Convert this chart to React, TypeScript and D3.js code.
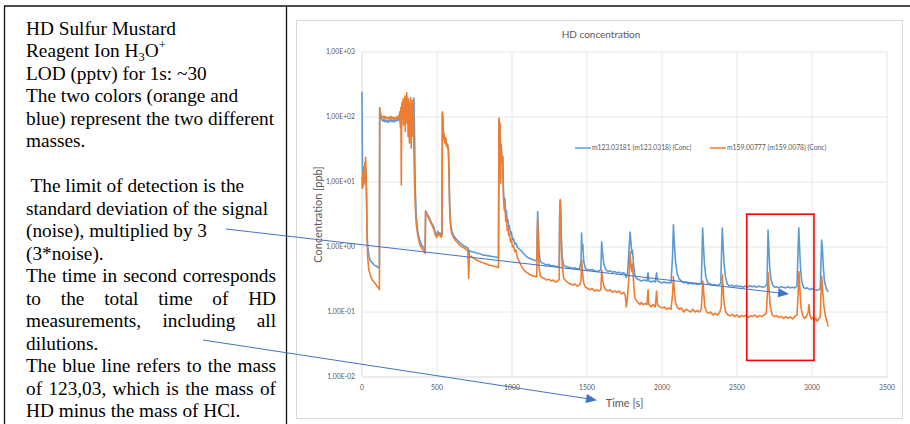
import React, { useRef, useEffect } from 'react';
import * as d3 from 'd3';

// --- DATA ---
// m123.03181 (blue): [time s, concentration ppb]
const blueSeries: [number, number][] = [
  [0, 245], [2, 30], [4, 8], [8, 12], [12, 9], [16, 14], [20, 10], [24, 16], [28, 12], [31, 5],
  [34, 1.6], [38, 1.05], [45, 0.75], [55, 0.62], [65, 0.58], [75, 0.55], [85, 0.52], [95, 0.51],
  [105, 0.49], [113, 0.48], [116, 0.47], [118, 130], [122, 110], [128, 96], [134, 90], [140, 86],
  [146, 92], [152, 85], [158, 90], [164, 84], [170, 88], [176, 83], [182, 90], [188, 86], [194, 92],
  [200, 85], [206, 89], [212, 84], [218, 90], [224, 86], [230, 92], [236, 88], [242, 95], [248, 90],
  [252, 110], [256, 80], [260, 130], [264, 90], [268, 160], [272, 110], [276, 170], [280, 120],
  [286, 190], [292, 150], [298, 210], [304, 140], [310, 170], [316, 100], [322, 150], [328, 90],
  [334, 160], [340, 120], [346, 195], [350, 60], [355, 8], [362, 3], [372, 1.7], [385, 1.25],
  [400, 1.05], [415, 0.95], [421, 0.9], [424, 3.6], [435, 3.2], [450, 2.8], [465, 2.3], [480, 2.0],
  [490, 1.6], [498, 1.5], [505, 1.75], [512, 1.6], [520, 1.65], [528, 1.5], [533, 1.6], [536, 115],
  [540, 85], [544, 48], [548, 52], [552, 42], [558, 45], [564, 36], [570, 38], [576, 32], [580, 15],
  [584, 5], [590, 2.4], [598, 1.8], [610, 1.5], [625, 1.35], [640, 1.25], [655, 1.15], [670, 1.08],
  [685, 1.02], [700, 0.98], [707, 0.96], [711, 0.57], [716, 0.88], [725, 0.86], [740, 0.84],
  [755, 0.82], [770, 0.8], [785, 0.79], [800, 0.76], [815, 0.75], [830, 0.74], [845, 0.73],
  [860, 0.72], [875, 0.71], [890, 0.7], [905, 0.69], [910, 0.68], [913, 90], [917, 72], [921, 60],
  [924, 25], [928, 38], [933, 22], [938, 24], [943, 7], [948, 5], [953, 5.5], [958, 3.2], [963, 3.6],
  [968, 2.4], [973, 2.6], [978, 2.0], [983, 2.1], [990, 1.6], [996, 1.7], [1003, 1.3], [1010, 1.35],
  [1018, 1.1], [1026, 1.15], [1035, 1.0], [1045, 0.95], [1055, 0.9], [1065, 0.86], [1075, 0.8],
  [1085, 0.76], [1095, 0.72], [1105, 0.69], [1115, 0.67], [1125, 0.66], [1135, 0.64], [1145, 0.63],
  [1155, 0.62], [1165, 0.62], [1168, 1.5], [1171, 3.5], [1175, 2], [1180, 0.9], [1188, 0.6],
  [1200, 0.57], [1215, 0.55], [1230, 0.53], [1245, 0.54], [1260, 0.51], [1275, 0.52], [1290, 0.5],
  [1305, 0.5], [1315, 0.52], [1318, 3.5], [1322, 5.3], [1326, 3], [1330, 1.2], [1335, 0.7],
  [1345, 0.52], [1360, 0.5], [1375, 0.49], [1390, 0.48], [1405, 0.47], [1420, 0.48], [1435, 0.46],
  [1450, 0.46], [1460, 0.6], [1464, 1.64], [1468, 0.9], [1472, 1.1], [1478, 0.6], [1490, 0.46],
  [1505, 0.45], [1520, 0.44], [1535, 0.45], [1550, 0.43], [1565, 0.42], [1580, 0.43], [1592, 0.45],
  [1598, 1.2], [1604, 0.8], [1612, 0.55], [1625, 0.45], [1640, 0.42], [1655, 0.43], [1670, 0.41],
  [1685, 0.42], [1700, 0.4], [1715, 0.41], [1730, 0.39], [1745, 0.4], [1755, 0.38], [1762, 0.34],
  [1770, 0.4], [1780, 0.9], [1787, 1.7], [1793, 1.2], [1798, 0.8], [1803, 0.9], [1810, 0.55],
  [1818, 0.38], [1828, 0.33], [1840, 0.32], [1852, 0.31], [1862, 0.3], [1880, 0.31], [1900, 0.3],
  [1907, 0.4], [1913, 0.3], [1925, 0.29], [1940, 0.3], [1955, 0.29], [1964, 0.4], [1970, 0.3],
  [1985, 0.29], [2000, 0.28], [2015, 0.29], [2030, 0.28], [2045, 0.285], [2060, 0.28], [2070, 0.7],
  [2076, 2.2], [2082, 1.2], [2090, 0.6], [2100, 0.4], [2115, 0.32], [2130, 0.3], [2145, 0.28],
  [2160, 0.29], [2175, 0.27], [2190, 0.28], [2205, 0.27], [2220, 0.275], [2235, 0.265], [2250, 0.27],
  [2262, 0.28], [2267, 0.8], [2271, 1.96], [2276, 1.1], [2283, 0.55], [2292, 0.35], [2305, 0.28],
  [2320, 0.27], [2335, 0.26], [2350, 0.265], [2365, 0.255], [2380, 0.26], [2392, 0.28], [2397, 0.8],
  [2402, 1.96], [2407, 1.1], [2414, 0.55], [2423, 0.35], [2435, 0.27], [2450, 0.25], [2465, 0.26],
  [2480, 0.245], [2495, 0.255], [2510, 0.245], [2525, 0.25], [2540, 0.24], [2555, 0.25], [2570, 0.24],
  [2585, 0.255], [2600, 0.245], [2615, 0.25], [2630, 0.24], [2645, 0.25], [2660, 0.245], [2675, 0.24],
  [2690, 0.25], [2700, 0.27], [2704, 0.8], [2707, 1.83], [2712, 1.0], [2718, 0.5], [2726, 0.32],
  [2738, 0.26], [2750, 0.24], [2765, 0.245], [2780, 0.235], [2795, 0.245], [2810, 0.24], [2825, 0.235],
  [2840, 0.245], [2855, 0.235], [2870, 0.24], [2885, 0.235], [2900, 0.25], [2907, 0.9], [2912, 1.98],
  [2917, 1.0], [2923, 0.5], [2931, 0.3], [2943, 0.24], [2955, 0.23], [2970, 0.235], [2985, 0.22],
  [3000, 0.23], [3015, 0.22], [3030, 0.215], [3045, 0.22], [3055, 0.23], [3060, 0.6], [3064, 1.28],
  [3069, 1.0], [3075, 0.5], [3083, 0.3], [3095, 0.23], [3108, 0.205],
];

// m159.00777 (orange): [time s, concentration ppb]
const orangeSeries: [number, number][] = [
  [0, 12], [3, 8], [6, 14], [9, 9], [12, 17], [15, 10], [18, 20], [21, 12], [24, 24], [27, 13],
  [30, 6], [33, 1.5], [38, 0.7], [45, 0.45], [55, 0.37], [65, 0.32], [75, 0.3], [85, 0.28], [95, 0.26],
  [105, 0.24], [113, 0.23], [116, 0.22], [118, 140], [122, 118], [128, 105], [134, 100], [140, 97],
  [146, 103], [152, 96], [158, 101], [164, 95], [170, 99], [176, 93], [182, 100], [188, 96], [194, 102],
  [200, 94], [206, 99], [212, 92], [218, 98], [224, 94], [230, 100], [236, 95], [242, 104], [248, 97],
  [252, 120], [256, 70], [259, 140], [262, 9], [265, 130], [268, 170], [271, 100], [274, 190], [277, 75],
  [280, 160], [283, 110], [286, 210], [289, 60], [292, 180], [295, 120], [298, 235], [301, 80],
  [304, 170], [307, 50], [310, 190], [313, 130], [316, 40], [319, 160], [322, 90], [325, 200], [328, 33],
  [331, 140], [334, 70], [337, 180], [340, 50], [343, 110], [346, 30], [350, 10], [355, 4.2],
  [362, 2.2], [372, 1.5], [385, 1.1], [400, 0.95], [415, 0.85], [421, 0.8], [424, 3.5], [435, 3.1],
  [450, 2.6], [465, 2.2], [480, 1.85], [490, 1.5], [498, 1.4], [505, 1.65], [512, 1.5], [520, 1.55],
  [528, 1.4], [533, 1.5], [536, 120], [540, 90], [544, 45], [548, 55], [552, 40], [558, 48], [564, 35],
  [570, 38], [576, 30], [580, 14], [584, 4.2], [590, 2.2], [598, 1.6], [610, 1.4], [625, 1.25],
  [640, 1.15], [655, 1.05], [670, 1.0], [685, 0.95], [700, 0.9], [707, 0.85], [711, 0.33], [716, 0.72],
  [725, 0.72], [740, 0.68], [755, 0.65], [770, 0.62], [785, 0.6], [800, 0.58], [815, 0.56], [830, 0.55],
  [845, 0.53], [860, 0.52], [875, 0.51], [890, 0.5], [905, 0.49], [910, 0.48], [913, 96], [917, 70],
  [921, 80], [924, 9.6], [928, 35], [933, 20], [938, 25], [943, 5.9], [948, 3.7], [953, 4.2], [958, 2.5],
  [963, 2.9], [968, 1.8], [973, 2.0], [978, 1.5], [983, 1.6], [990, 1.2], [996, 1.3], [1003, 1.0],
  [1010, 1.05], [1018, 0.85], [1026, 0.9], [1035, 0.7], [1045, 0.62], [1055, 0.55], [1065, 0.5],
  [1075, 0.46], [1085, 0.43], [1095, 0.41], [1105, 0.4], [1115, 0.38], [1125, 0.37], [1135, 0.36],
  [1145, 0.36], [1155, 0.35], [1165, 0.35], [1168, 1.2], [1171, 2.6], [1175, 1.5], [1180, 0.5],
  [1188, 0.36], [1200, 0.34], [1215, 0.33], [1230, 0.31], [1245, 0.32], [1260, 0.3], [1275, 0.31],
  [1290, 0.29], [1305, 0.3], [1315, 0.32], [1318, 3], [1322, 5.3], [1326, 2.5], [1330, 0.9],
  [1335, 0.5], [1345, 0.33], [1360, 0.3], [1375, 0.28], [1390, 0.27], [1405, 0.26], [1420, 0.27],
  [1435, 0.25], [1450, 0.26], [1460, 0.3], [1465, 0.63], [1470, 0.4], [1478, 0.28], [1490, 0.24],
  [1505, 0.23], [1520, 0.22], [1535, 0.23], [1550, 0.21], [1565, 0.22], [1580, 0.21], [1592, 0.22],
  [1598, 0.44], [1604, 0.32], [1612, 0.25], [1625, 0.22], [1640, 0.21], [1655, 0.22], [1670, 0.2],
  [1685, 0.21], [1700, 0.2], [1715, 0.21], [1730, 0.19], [1745, 0.2], [1755, 0.18], [1762, 0.12],
  [1770, 0.17], [1780, 0.35], [1787, 0.84], [1793, 0.5], [1798, 0.42], [1803, 0.55], [1810, 0.3],
  [1818, 0.17], [1828, 0.15], [1840, 0.14], [1852, 0.13], [1862, 0.14], [1875, 0.13], [1888, 0.135],
  [1900, 0.13], [1907, 0.22], [1913, 0.13], [1925, 0.12], [1940, 0.13], [1955, 0.12], [1964, 0.21],
  [1970, 0.13], [1985, 0.12], [2000, 0.115], [2015, 0.12], [2030, 0.11], [2045, 0.115], [2060, 0.11],
  [2070, 0.18], [2076, 0.35], [2082, 0.22], [2090, 0.14], [2100, 0.12], [2115, 0.11], [2130, 0.115],
  [2145, 0.1], [2160, 0.11], [2175, 0.105], [2190, 0.1], [2205, 0.11], [2220, 0.1], [2235, 0.105],
  [2250, 0.1], [2262, 0.11], [2268, 0.2], [2272, 0.3], [2278, 0.2], [2285, 0.12], [2298, 0.1],
  [2310, 0.095], [2325, 0.1], [2340, 0.09], [2355, 0.095], [2370, 0.09], [2385, 0.1], [2395, 0.12],
  [2402, 0.37], [2408, 0.22], [2415, 0.13], [2425, 0.1], [2440, 0.09], [2455, 0.088], [2470, 0.092],
  [2485, 0.085], [2500, 0.09], [2515, 0.083], [2530, 0.088], [2545, 0.085], [2560, 0.09], [2575, 0.082],
  [2590, 0.088], [2605, 0.085], [2620, 0.09], [2635, 0.083], [2650, 0.088], [2665, 0.085], [2680, 0.09],
  [2695, 0.095], [2703, 0.2], [2708, 0.4], [2714, 0.22], [2722, 0.12], [2735, 0.09], [2750, 0.085],
  [2765, 0.088], [2780, 0.082], [2795, 0.086], [2810, 0.08], [2825, 0.085], [2840, 0.08], [2855, 0.084],
  [2870, 0.078], [2885, 0.085], [2900, 0.09], [2908, 0.2], [2913, 0.42], [2918, 0.25], [2926, 0.12],
  [2938, 0.088], [2950, 0.08], [2962, 0.085], [2975, 0.1], [2980, 0.13], [2986, 0.09], [2995, 0.078],
  [3005, 0.083], [3015, 0.075], [3025, 0.08], [3035, 0.072], [3045, 0.078], [3055, 0.085], [3060, 0.2],
  [3065, 0.35], [3072, 0.2], [3080, 0.12], [3090, 0.085], [3098, 0.075], [3104, 0.065], [3108, 0.06],
];

const seriesNames = ['m123.03181 (m123.0318) (Conc)', 'm159.00777 (m159.0078) (Conc)'];
const seriesColors = ['#5b9bd5', '#ed7d31'];

const xTicks = [0, 500, 1000, 1500, 2000, 2500, 3000, 3500];
const yTicks = [0.01, 0.1, 1, 10, 100, 1000];
const yTickLabels = ['1,00E-02', '1,00E-01', '1,00E+00', '1,00E+01', '1,00E+02', '1,00E+03'];

// red highlight box, in data units
const highlight = { t0: 2565, t1: 3013, vTop: 3.2, vBottom: 0.018 };

// annotation arrows: start in the note panel (px), tip in data units
const arrowNotes = [
  { from: [226, 229], tipT: 2847, tipV: 0.189 },
  { from: [203, 340], tipT: 1567, tipV: 0.0044 },
];

const notesTop = [
  'HD Sulfur Mustard',
  'Reagent Ion H3O+',
  'LOD (pptv) for 1s: ~30',
  'The two colors (orange and',
  'blue) represent the two different',
  'masses.',
];
const notesBottom = [
  ' The limit of detection is the',
  'standard deviation of the signal',
  '(noise), multiplied by 3',
  '(3*noise).',
  'The time in second corresponds',
  'to the total time of HD',
  'measurements, including all',
  'dilutions.',
  'The blue line refers to the mass',
  'of 123,03, which is the mass of',
  'HD minus the mass of HCl.',
];
const justifiedBottom = [4, 5, 6, 8, 9];

export default function App() {
  const svgRef = useRef<SVGSVGElement>(null);

  useEffect(() => {
    if (!svgRef.current) return;
    const svg = d3.select(svgRef.current);
    svg.selectAll('*').remove();

    const chartFont = 'Lato, "Open Sans", sans-serif';
    const grey = '#595959';

    // --- table borders ---
    svg.append('rect').attr('width', 910).attr('height', 424).attr('fill', '#fff');
    svg.append('line').attr('x1', 4).attr('x2', 910).attr('y1', 6).attr('y2', 6).attr('stroke', '#111').attr('stroke-width', 1.3);
    svg.append('line').attr('x1', 4.5).attr('x2', 4.5).attr('y1', 6).attr('y2', 424).attr('stroke', '#111').attr('stroke-width', 1.3);
    svg.append('line').attr('x1', 286.5).attr('x2', 286.5).attr('y1', 6).attr('y2', 424).attr('stroke', '#111').attr('stroke-width', 1.3);

    // --- note text (Times-like) ---
    const notes = svg.append('g')
      .style('font-family', '"Liberation Serif", "Times New Roman", serif')
      .style('font-size', '19.3px')
      .attr('fill', '#000');
    const left = 26, right = 276;
    const lineGap = 22.5;
    const firstBaseline = 34.5;

    notesTop.forEach((line, i) => {
      const y = firstBaseline + i * lineGap;
      if (line.startsWith('Reagent Ion')) {
        const t = notes.append('text').attr('x', left).attr('y', y);
        t.append('tspan').text('Reagent Ion H');
        t.append('tspan').attr('dy', 4).style('font-size', '12.5px').text('3');
        t.append('tspan').attr('dy', -4).text('O');
        t.append('tspan').attr('dy', -8).style('font-size', '12.5px').text('+');
      } else {
        notes.append('text').attr('x', left).attr('y', y).text(line);
      }
    });

    notesBottom.forEach((line, i) => {
      const y = firstBaseline + (notesTop.length + 1 + i) * lineGap;
      if (justifiedBottom.includes(i)) {
        const words = line.split(' ');
        const nodes = words.map(w => notes.append('text').attr('y', y).text(w));
        const widths = nodes.map(n => (n.node() as SVGTextElement).getComputedTextLength());
        const gap = (right - left - d3.sum(widths)) / (words.length - 1);
        let x = left;
        nodes.forEach((n, k) => { n.attr('x', x); x += widths[k] + gap; });
      } else {
        notes.append('text').attr('x', left).attr('y', y)
          .attr('xml:space', 'preserve').style('white-space', 'pre').text(line);
      }
    });

    // --- chart frame ---
    svg.append('rect').attr('x', 296.5).attr('y', 20.5).attr('width', 606).attr('height', 398)
      .attr('fill', '#fff').attr('stroke', '#d9d9d9');

    const x = d3.scaleLinear().domain([0, 3500]).range([362, 887]);
    const y = d3.scaleLog().domain([0.01, 1000]).range([377, 52]);

    svg.append('text').attr('x', 601).attr('y', 38).attr('text-anchor', 'middle')
      .style('font-family', chartFont).style('font-size', '10px').attr('fill', grey)
      .text('HD concentration');

    // gridlines
    const grid = svg.append('g').attr('stroke', '#e6e6e6').attr('stroke-width', 1);
    xTicks.slice(1).forEach(t => grid.append('line')
      .attr('x1', x(t)).attr('x2', x(t)).attr('y1', y(1000)).attr('y2', y(0.01)));
    yTicks.slice(1).forEach(v => grid.append('line')
      .attr('x1', x(0)).attr('x2', x(3500)).attr('y1', y(v)).attr('y2', y(v)));
    // axis lines
    svg.append('line').attr('x1', x(0)).attr('x2', x(0)).attr('y1', y(1000)).attr('y2', y(0.01)).attr('stroke', '#d9d9d9');
    svg.append('line').attr('x1', x(0)).attr('x2', x(3500)).attr('y1', y(0.01)).attr('y2', y(0.01)).attr('stroke', '#d9d9d9');

    // tick labels
    const ticksG = svg.append('g').style('font-family', chartFont).style('font-size', '6.8px').attr('fill', grey);
    yTicks.forEach((v, i) => ticksG.append('text').attr('x', x(0) - 7).attr('y', y(v) + 2.3)
      .attr('text-anchor', 'end').text(yTickLabels[i]));
    xTicks.forEach(t => ticksG.append('text').attr('x', x(t)).attr('y', 390)
      .attr('text-anchor', 'middle').text(String(t)));

    // axis titles
    svg.append('text').attr('transform', `translate(322,${(y(1000) + y(0.01)) / 2}) rotate(-90)`)
      .attr('text-anchor', 'middle').style('font-family', chartFont).style('font-size', '11px')
      .attr('fill', grey).text('Concentration [ppb]');
    svg.append('text').attr('x', (x(0) + x(3500)) / 2).attr('y', 406.5)
      .attr('text-anchor', 'middle').style('font-family', chartFont).style('font-size', '11px')
      .attr('fill', grey).text('Time [s]');

    // series
    const line = d3.line<[number, number]>().x(d => x(d[0])).y(d => y(d[1]));
    [blueSeries, orangeSeries].forEach((s, i) => {
      svg.append('path').datum(s).attr('d', line).attr('fill', 'none')
        .attr('stroke', seriesColors[i]).attr('stroke-width', 1.6).attr('stroke-linejoin', 'round');
    });

    // legend
    const legendX = [575, 710];
    seriesNames.forEach((name, i) => {
      const g = svg.append('g').attr('transform', `translate(${legendX[i]},148)`);
      g.append('line').attr('x1', 0).attr('x2', 16).attr('stroke', seriesColors[i]).attr('stroke-width', 1.5);
      g.append('text').attr('x', 17).attr('y', 2.4).style('font-family', chartFont)
        .style('font-size', '6.8px').attr('fill', grey).text(name);
    });

    // red highlight
    svg.append('rect')
      .attr('x', x(highlight.t0)).attr('y', y(highlight.vTop))
      .attr('width', x(highlight.t1) - x(highlight.t0))
      .attr('height', y(highlight.vBottom) - y(highlight.vTop))
      .attr('fill', 'none').attr('stroke', '#ff0000').attr('stroke-width', 1.6);

    // arrows
    arrowNotes.forEach(a => {
      const [x0, y0] = a.from;
      const x1 = x(a.tipT), y1 = y(a.tipV);
      const ang = Math.atan2(y1 - y0, x1 - x0);
      const len = 11, half = 4.5;
      const bx = x1 - len * Math.cos(ang), by = y1 - len * Math.sin(ang);
      svg.append('line').attr('x1', x0).attr('y1', y0).attr('x2', bx).attr('y2', by)
        .attr('stroke', '#4472c4').attr('stroke-width', 1);
      const p1 = [bx + half * Math.sin(ang), by - half * Math.cos(ang)];
      const p2 = [bx - half * Math.sin(ang), by + half * Math.cos(ang)];
      svg.append('polygon').attr('points', `${x1},${y1} ${p1[0]},${p1[1]} ${p2[0]},${p2[1]}`)
        .attr('fill', '#4472c4');
    });
  }, []);

  return (
    <svg ref={svgRef} width={910} height={424}
      style={{ position: 'absolute', left: 0, top: 0, display: 'block' }} />
  );
}
